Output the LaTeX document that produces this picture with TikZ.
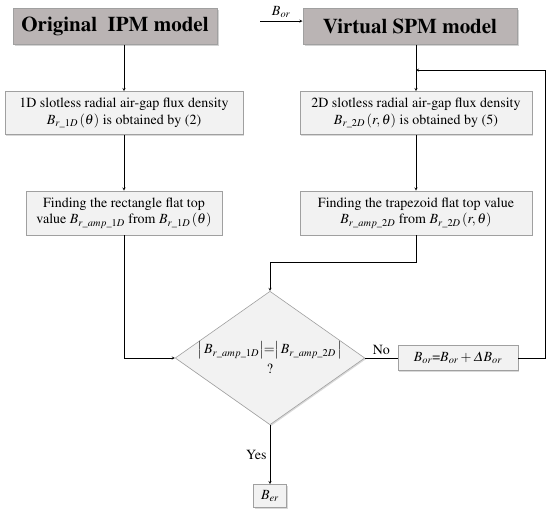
\documentclass[tikz,border=0pt]{standalone}
\usepackage[T1]{fontenc}
\usepackage{amsmath}
\usepackage{mathptmx}
\usepackage{xcolor}
\usetikzlibrary{positioning,shapes.geometric,shadows}

\definecolor{titlegray}{RGB}{186,180,180}
\definecolor{boxgray}{RGB}{242,242,242}
\definecolor{edgegray}{RGB}{160,160,160}

\begin{document}
\begin{tikzpicture}[x=1pt, y=-1pt, >=stealth,
  title box/.style={draw=edgegray, fill=titlegray, line width=1pt,
    font=\fontsize{21}{22}\fontseries{b}\selectfont, inner sep=0pt,
    drop shadow={shadow xshift=1.5pt, shadow yshift=-1.5pt, opacity=0.35}},
  every box/.style={draw=edgegray, fill=boxgray, line width=0.8pt, align=center,
    font=\fontsize{14}{16.5}\selectfont, inner sep=0pt,
    drop shadow={shadow xshift=1.2pt, shadow yshift=-1.2pt, opacity=0.3}},
  decision/.style={diamond, draw=edgegray, fill=boxgray, line width=0.6pt,
    aspect=1.42, minimum width=186pt, minimum height=131pt, inner sep=0pt,
    align=center, font=\fontsize{14}{20}\selectfont,
    drop shadow={shadow xshift=1.2pt, shadow yshift=-1.2pt, opacity=0.3}},
  label/.style={font=\fontsize{14}{16}\selectfont}]

\useasboundingbox (0,0) rectangle (550,515);

% top blocks
\node [title box, minimum width=204pt, minimum height=36pt] (title-ipm) at (115,26) {Original\ \ IPM model};
\node [title box, minimum width=214pt, minimum height=36pt] (title-spm) at (410,26) {Virtual SPM model};

% flux density blocks
\node [every box, minimum width=238pt, minimum height=43pt] (box-1d) at (124,113)
  {1D slotless radial air-gap flux density\\ $B_{r\_1D}\,(\theta)$ is obtained by (2)};
\node [every box, minimum width=232pt, minimum height=43pt] (box-2d) at (416,113)
  {2D slotless radial air-gap flux density\\ $B_{r\_2D}\,(r,\theta)$ is obtained by (5)};

% flat top blocks
\node [every box, minimum width=196pt, minimum height=44pt] (box-rect) at (124,213)
  {Finding the rectangle flat top\\ value $B_{r\_amp\_1D}$\ from $B_{r\_1D}\,(\theta)$};
\node [every box, minimum width=232pt, minimum height=44pt] (box-trap) at (416,213)
  {Finding the trapezoid flat top value\\ $B_{r\_amp\_2D}$\ from\ $B_{r\_2D}\,(r,\theta)$};

% decision and update
\node [decision] (dec) at (270,358)
  {$\bigl|\,B_{r\_amp\_1D}\bigr|{=}\bigl|\,B_{r\_amp\_2D}\,\bigr|$\\ ?};
\node [every box, minimum width=120pt, minimum height=25pt] (box-or) at (458,358)
  {$B_{or}$=$B_{or}+\varDelta B_{or}$};
\node [every box, minimum width=33pt, minimum height=23pt] (box-ber) at (270,496) {$B_{er}$};

\coordinate (bor-in) at (260,21);
\coordinate (fb) at (545,70);

% connectors
\draw [->] (bor-in) -- (bor-in -| title-spm.west)
  node [above, midway, label] {$B_{or}$};
\draw [->] (title-ipm.south -| box-1d.north) -- (box-1d.north);
\draw [->] (title-spm.south -| box-2d.north) -- (box-2d.north);
\draw [->] (box-1d) -- (box-rect);
\draw [->] (box-2d) -- (box-trap);
\draw [->] (box-trap.south) -- ++(0,27) -| (dec.north);
\draw [->] (box-rect.south) |- (dec.west);
\draw (dec.east) -- (box-or.west)
  node [above, midway, label] {No};
\draw [->] (box-or.east) -| (fb) -- (fb -| box-2d.north);
\draw [->] (dec.south) -- (box-ber.north)
  node [left, midway, label] {Yes};
\end{tikzpicture}
\end{document}
